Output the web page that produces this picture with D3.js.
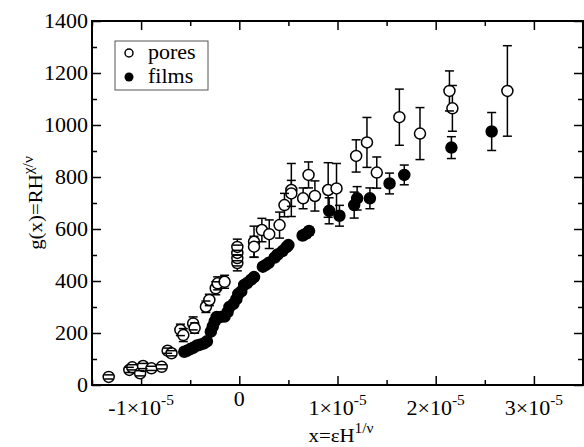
<!DOCTYPE html>
<html>
<head>
<meta charset="utf-8">
<script src="https://cdn.jsdelivr.net/npm/d3@7"></script>
<style>
  body { margin: 0; background: #fff; }
</style>
</head>
<body>
<div id="plot"></div>
<script>
var w = 584;
var h = 447;
var margin = {left: 92, right: 1, top: 21, bottom: 62};

// x values are in units of 1e-5
var poresX = [-1.33, -1.12, -1.09, -1.01, -0.98, -0.895, -0.79, -0.73, -0.69, -0.60, -0.57,
              -0.47, -0.455, -0.34, -0.305, -0.24, -0.22, -0.15, -0.02, -0.02, -0.02, -0.02,
              0.15, 0.15, 0.23, 0.305, 0.41, 0.46, 0.53, 0.53, 0.65, 0.705, 0.77, 0.905, 0.99,
              1.19, 1.30, 1.40, 1.63, 1.84, 2.14, 2.17, 2.73];
var poresY = [31, 58, 68, 45, 73, 64, 70, 132, 122, 212, 192,
              237, 219, 301, 327, 372, 391, 397, 469, 488, 508, 531,
              551, 532, 596, 580, 615, 692, 750, 737, 718, 808, 727, 750, 756,
              881, 933, 817, 1030, 967, 1131, 1064, 1131];
var poresErr = [8, 10, 10, 10, 10, 8, 8, 10, 10, 22, 25,
                25, 20, 22, 22, 25, 25, 25, 30, 30, 30, 30,
                60, 40, 45, 55, 50, 45, 102, 50, 40, 50, 58, 105, 96,
                62, 96, 60, 108, 100, 77, 88, 174];

var filmsX = [-0.56, -0.53, -0.50, -0.47, -0.43, -0.40, -0.36, -0.33, -0.29, -0.27, -0.25,
              -0.23, -0.19, -0.15, -0.12, -0.10, -0.06, -0.03, -0.01, 0.02, 0.05, 0.08,
              0.12, 0.15, 0.24, 0.27, 0.30, 0.36, 0.39, 0.44, 0.48, 0.50, 0.645, 0.68,
              0.71, 0.915, 1.02, 1.17, 1.20, 1.33, 1.53, 1.68, 2.16, 2.57];
var filmsY = [128, 132, 138, 143, 152, 155, 160, 168, 205, 225, 245,
              262, 262, 263, 280, 300, 312, 330, 350, 360, 385, 392,
              405, 415, 455, 462, 470, 490, 502, 515, 530, 538, 575, 582,
              592, 670, 651, 692, 718, 718, 775, 808, 913, 975];
var filmsErr = [6, 6, 6, 6, 6, 6, 6, 6, 8, 8, 8,
                8, 8, 8, 8, 10, 10, 10, 10, 10, 10, 10,
                10, 10, 10, 10, 10, 12, 12, 12, 12, 12, 15, 15,
                15, 50, 40, 50, 45, 40, 40, 38, 42, 73];

var xMajor = [-1, 0, 1, 2, 3];
var xMinor = [-1.5, -0.5, 0.5, 1.5, 2.5, 3.5];
var yMajor = [0, 200, 400, 600, 800, 1000, 1200, 1400];
var yMinor = [100, 300, 500, 700, 900, 1100, 1300];

var pores = poresX.map(function(d, i) { return {x: d, y: poresY[i], e: poresErr[i]}; });
var films = filmsX.map(function(d, i) { return {x: d, y: filmsY[i], e: filmsErr[i]}; });

var xScale = d3.scaleLinear()
               .domain([-1.5, 3.5])
               .range([margin.left, w - margin.right]);

var yScale = d3.scaleLinear()
               .domain([0, 1400])
               .range([h - margin.bottom, margin.top]);

var svg = d3.select("#plot")
            .append("svg")
            .attr("width", w)
            .attr("height", h)
            .attr("font-family", "'Liberation Serif', 'Times New Roman', 'DejaVu Serif', serif");

var x0 = margin.left, x1 = w - margin.right;
var y0 = h - margin.bottom, y1 = margin.top;
var stretch = 1.1;  // the original's lettering is a bit wide

// ticks on all four sides, pointing inward
function addTicks(axis, values, size, transform) {
  var g = svg.append("g")
     .attr("transform", transform)
     .call(axis.tickValues(values).tickSize(-size).tickFormat(""));
  g.select(".domain").remove();
  g.selectAll("line").attr("stroke", "#000").attr("stroke-width", 1.5);
  return g;
}
addTicks(d3.axisBottom(xScale), xMajor, 9, "translate(0," + y0 + ")");
addTicks(d3.axisBottom(xScale), xMinor, 5, "translate(0," + y0 + ")");
addTicks(d3.axisTop(xScale), xMajor, 9, "translate(0," + y1 + ")");
addTicks(d3.axisTop(xScale), xMinor, 5, "translate(0," + y1 + ")");
addTicks(d3.axisLeft(yScale), yMajor, 9, "translate(" + x0 + ",0)");
addTicks(d3.axisLeft(yScale), yMinor, 5, "translate(" + x0 + ",0)");
addTicks(d3.axisRight(yScale), yMajor, 9, "translate(" + x1 + ",0)");
addTicks(d3.axisRight(yScale), yMinor, 5, "translate(" + x1 + ",0)");

// tick labels
svg.selectAll(".ylab")
   .data(yMajor)
   .enter()
   .append("text")
   .attr("transform", function(d) {
     return "translate(" + (x0 - 4) + "," + (yScale(d) + 7) + ") scale(" + stretch + ",1)";
   })
   .attr("text-anchor", "end")
   .attr("font-size", "20px")
   .text(function(d) { return d; });

svg.selectAll(".xlab")
   .data(xMajor)
   .enter()
   .append("text")
   .attr("transform", function(d) {
     return "translate(" + xScale(d) + "," + (d === 0 ? 406 : 415) + ") scale(" + stretch + ",1)";
   })
   .attr("text-anchor", "middle")
   .attr("font-size", "20px")
   .each(function(d) {
     var t = d3.select(this);
     if (d === 0) { t.text("0"); return; }
     t.append("tspan").text(d + "\u00d710");
     t.append("tspan").attr("dy", -10).attr("font-size", "14px").text("-5");
   });

// axis titles
var xt = svg.append("text")
   .attr("transform", "translate(341,442) scale(" + stretch + ",1)")
   .attr("text-anchor", "middle")
   .attr("font-size", "19px");
xt.append("tspan").text("x=\u03b5H");
xt.append("tspan").attr("dy", -9).attr("font-size", "14px").text("1/\u03bd");

var yt = svg.append("text")
   .attr("transform", "translate(42," + ((y0 + y1) / 2) + ") rotate(-90) scale(" + stretch + ",1)")
   .attr("text-anchor", "middle")
   .attr("font-size", "19px");
yt.append("tspan").text("g(x)=RH");
yt.append("tspan").attr("dy", -9).attr("font-size", "14px").text("\u03c7/\u03bd");

// error bars + symbols
function drawSeries(data, filled, r) {
  var g = svg.append("g");
  g.selectAll(".riser")
   .data(data)
   .enter()
   .append("line")
   .attr("x1", function(d) { return xScale(d.x); })
   .attr("x2", function(d) { return xScale(d.x); })
   .attr("y1", function(d) { return yScale(d.y - d.e); })
   .attr("y2", function(d) { return yScale(d.y + d.e); })
   .attr("stroke", "#000")
   .attr("stroke-width", 1.5);
  g.selectAll("circle")
   .data(data)
   .enter()
   .append("circle")
   .attr("cx", function(d) { return xScale(d.x); })
   .attr("cy", function(d) { return yScale(d.y); })
   .attr("r", r)
   .attr("fill", filled ? "#000" : "#fff")
   .attr("stroke", "#000")
   .attr("stroke-width", 1.5);
  [1, -1].forEach(function(s) {
    g.selectAll(".cap" + s)
     .data(data)
     .enter()
     .append("line")
     .attr("x1", function(d) { return xScale(d.x) - 4.5; })
     .attr("x2", function(d) { return xScale(d.x) + 4.5; })
     .attr("y1", function(d) { return yScale(d.y + s * d.e); })
     .attr("y2", function(d) { return yScale(d.y + s * d.e); })
     .attr("stroke", "#000")
     .attr("stroke-width", 1.5);
  });
}
drawSeries(pores, false, 5.5);
drawSeries(films, true, 5.5);

// frame
svg.append("rect")
   .attr("x", x0)
   .attr("y", y1)
   .attr("width", x1 - x0)
   .attr("height", y0 - y1)
   .attr("fill", "none")
   .attr("stroke", "#000")
   .attr("stroke-width", 2);

// legend
var lg = svg.append("g");
lg.append("rect")
  .attr("x", 115).attr("y", 41).attr("width", 93).attr("height", 49)
  .attr("fill", "#fff").attr("stroke", "#555").attr("stroke-width", 1);
lg.append("circle").attr("cx", 129).attr("cy", 53).attr("r", 4)
  .attr("fill", "#fff").attr("stroke", "#000").attr("stroke-width", 1.5);
lg.append("circle").attr("cx", 129).attr("cy", 77).attr("r", 4.5)
  .attr("fill", "#000");
lg.append("text").attr("transform", "translate(148,59) scale(" + stretch + ",1)")
  .attr("font-size", "20px").text("pores");
lg.append("text").attr("transform", "translate(148,83) scale(" + stretch + ",1)")
  .attr("font-size", "20px").text("films");
</script>
</body>
</html>
